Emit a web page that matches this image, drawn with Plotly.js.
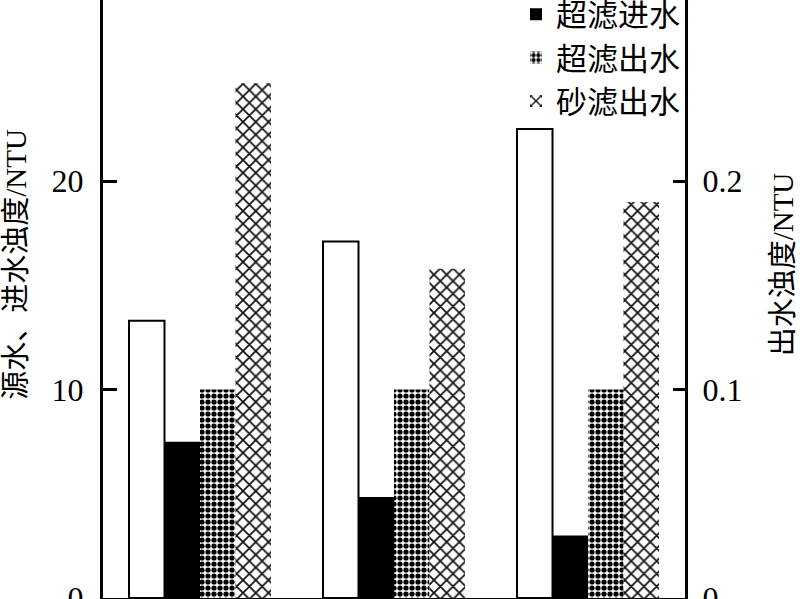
<!DOCTYPE html>
<html>
<head>
<meta charset="utf-8">
<script src="https://cdn.plot.ly/plotly-3.0.1.min.js"></script>
<style>
html,body{margin:0;padding:0;overflow:hidden;background:#fff;width:800px;height:599px;}
#chart{position:absolute;left:0;top:-100px;width:800px;height:799px;}
</style>
</head>
<body>
<div id="chart"></div>
<script>
// Data
const categories = ["阶段1", "阶段2", "阶段3"];
const seriesNames = ["源水", "超滤进水", "超滤出水", "砂滤出水"];
const sourceWater = [13.3, 17.1, 22.5];        // left axis, NTU
const ufInfluent = [7.5, 4.85, 3.0];           // left axis, NTU
const ufEffluent = [0.10, 0.10, 0.10];         // right axis, NTU
const sandEffluent = [0.247, 0.158, 0.19];     // right axis, NTU
const leftTicks = [0, 10, 20];
const rightTicks = [0, 0.1, 0.2];

const FONT = "Liberation Serif, 'Times New Roman', 'Noto Sans CJK SC', serif";
const W = 0.183;

const traces = [
  {
    type: "bar", name: seriesNames[0], x: categories, y: sourceWater,
    yaxis: "y", width: W, offset: -2 * W,
    marker: {color: "#ffffff", line: {color: "#000", width: 2}}
  },
  {
    type: "bar", name: seriesNames[1], x: categories, y: ufInfluent,
    yaxis: "y", width: W, offset: -W,
    marker: {color: "#000000", line: {color: "#000", width: 0}}
  },
  {
    type: "bar", name: seriesNames[2], x: categories, y: ufEffluent,
    yaxis: "y2", width: W, offset: 0,
    marker: {color: "#ffffff", line: {width: 0},
      pattern: {shape: ".", fgcolor: "#000", bgcolor: "#fff", fgopacity: 1, size: 6, solidity: 0.6, fillmode: "overlay"}}
  },
  {
    type: "bar", name: seriesNames[3], x: categories, y: sandEffluent,
    yaxis: "y2", width: W, offset: W,
    marker: {color: "#ffffff", line: {width: 0},
      pattern: {shape: "x", fgcolor: "#111", bgcolor: "#fff", fgopacity: 1, size: 9, solidity: 0.35, fillmode: "overlay"}}
  }
];

const layout = {
  width: 800, height: 799,
  margin: {l: 103, r: 115, t: 31, b: 101, pad: 0},
  paper_bgcolor: "#fff", plot_bgcolor: "#fff",
  font: {family: FONT, color: "#000", size: 30},
  showlegend: true,
  legend: {
    x: 1.0, xanchor: "right", y: 0.98, yanchor: "top",
    bgcolor: "rgba(0,0,0,0)", borderwidth: 0,
    font: {family: FONT, size: 31, color: "#000"},
    traceorder: "normal"
  },
  xaxis: {
    type: "category", categoryorder: "array", categoryarray: categories,
    range: [-0.5, 2.5],
    showline: true, linecolor: "#000", linewidth: 2,
    ticks: "", showgrid: false, zeroline: false,
    showticklabels: false,
    tickfont: {family: FONT, size: 30}
  },
  yaxis: {
    range: [0, 32], tickvals: leftTicks, ticktext: leftTicks.map(String),
    showline: true, linecolor: "#000", linewidth: 3, mirror: false,
    ticks: "inside", ticklen: 14, tickwidth: 3, tickcolor: "#000",
    showgrid: false, zeroline: false,
    tickfont: {family: FONT, size: 32},
    ticklabelstandoff: 10,
    title: {text: "源水、进水浊度/NTU", font: {family: FONT, size: 29}, standoff: 20}
  },
  yaxis2: {
    overlaying: "y", side: "right",
    range: [0, 0.32], tickvals: rightTicks, ticktext: rightTicks.map(String),
    showline: true, linecolor: "#000", linewidth: 3,
    ticks: "inside", ticklen: 12, tickwidth: 3, tickcolor: "#000",
    showgrid: false, zeroline: false,
    tickfont: {family: FONT, size: 32},
    ticklabelstandoff: 8,
    title: {text: "出水浊度/NTU", font: {family: FONT, size: 29}, standoff: 32}
  },
  bargap: 0.25
};

Plotly.newPlot("chart", traces, layout, {displayModeBar: false, staticPlot: true});
</script>
</body>
</html>
